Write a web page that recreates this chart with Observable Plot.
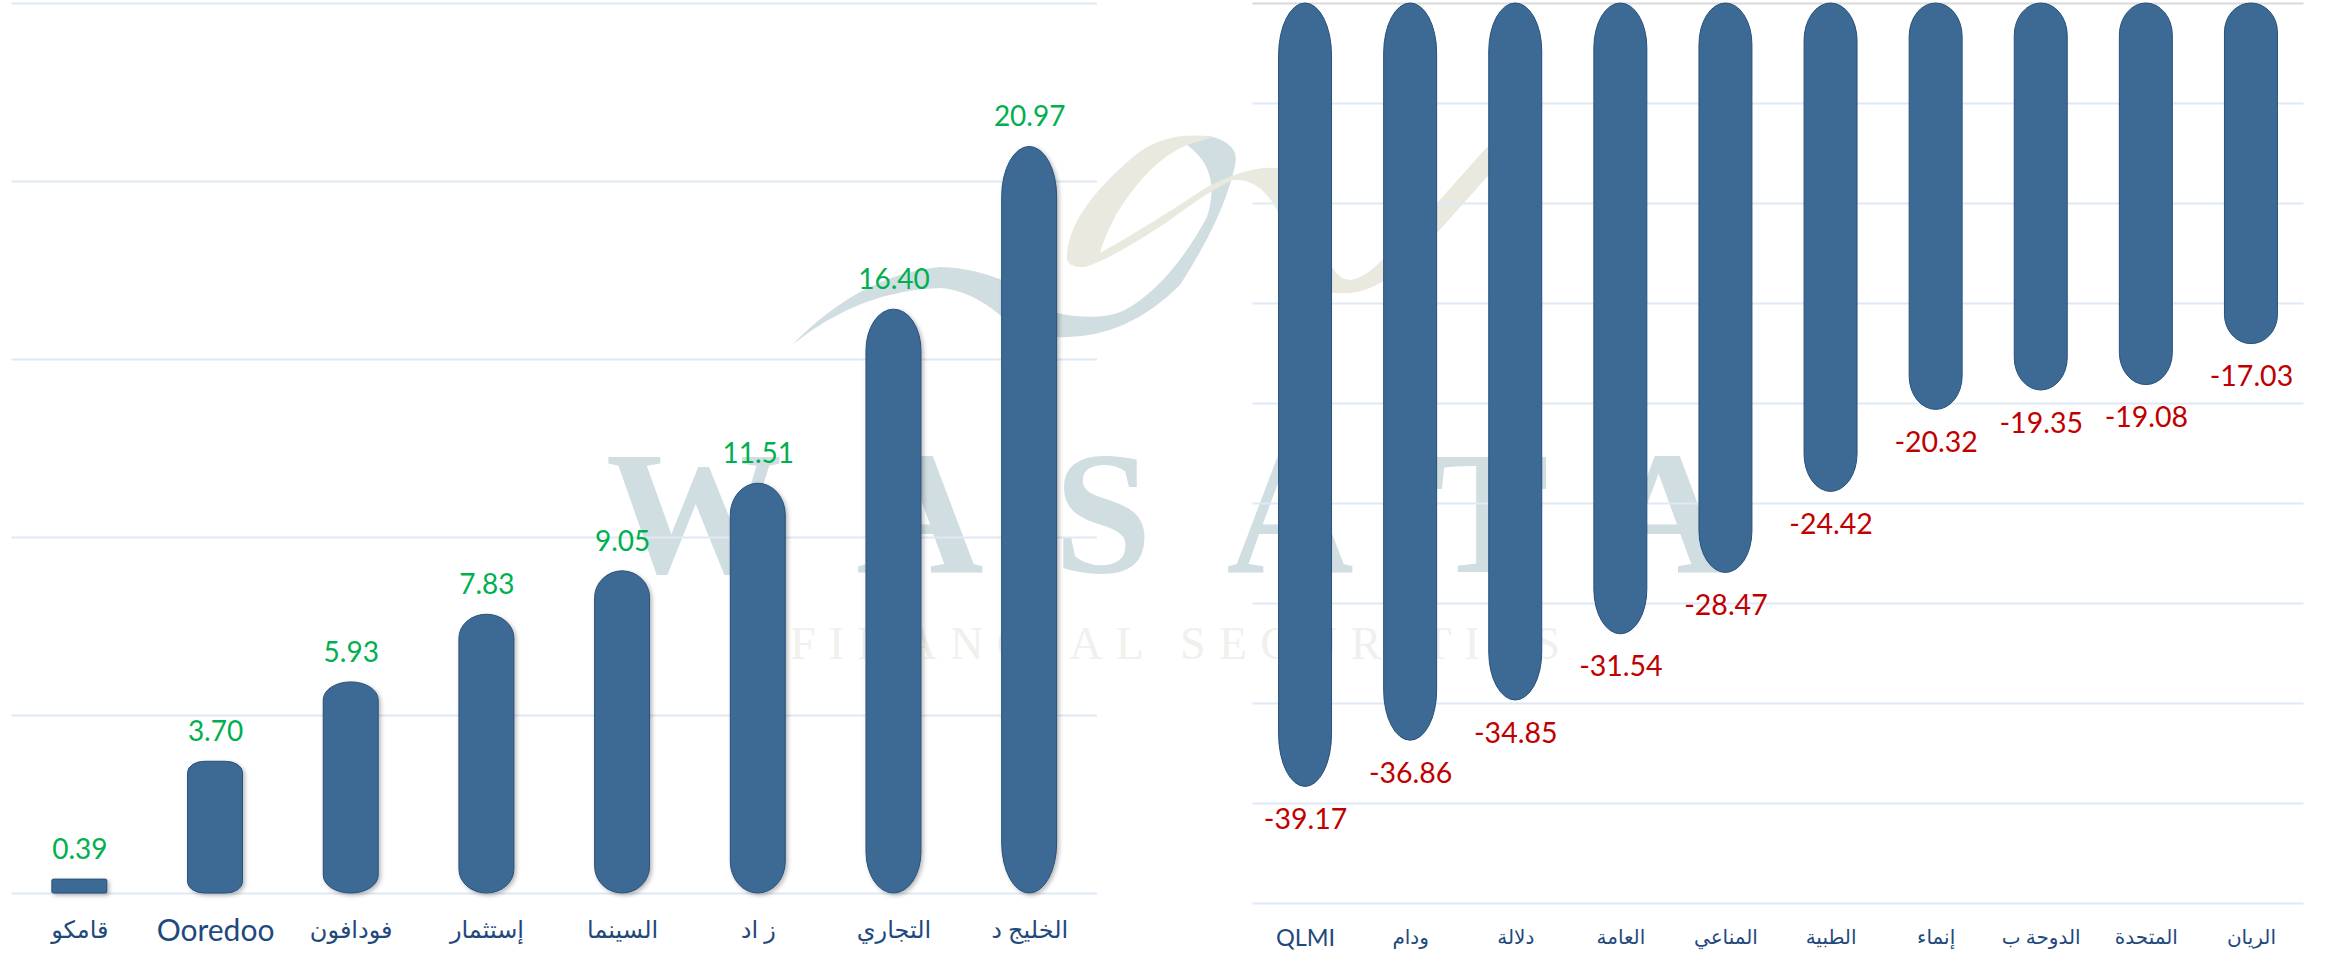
<!DOCTYPE html>
<html><head><meta charset="utf-8">
<script src="https://cdn.jsdelivr.net/npm/d3@7"></script>
<script src="https://cdn.jsdelivr.net/npm/@observablehq/plot@0.6"></script>
<style>
html,body{margin:0;padding:0;background:#fff}
#page{position:relative;width:2325px;height:955px;overflow:hidden;background:#fff}
#page>*{position:absolute;top:0}
#page svg{background:transparent}
</style></head><body>
<div id="page">
<svg id="mark" width="2325" height="955" style="left:0">
  <path fill="#d0dde1" d="M792 345 Q860 275 940 267 Q1000 268 1057 313 Q1100 322 1125 310 Q1170 285 1207 217 Q1222 170 1187 145 Q1205 133 1213 137 Q1240 145 1235 165 Q1225 215 1180 285 Q1125 340 1057 337 Q1020 335 1000 315 Q970 290 940 288 Q860 290 792 345 Z"/>
  <path fill="#e9e9df" d="M1067 260 Q1065 215 1133 157 Q1165 130 1213 137 L1187 145 Q1150 160 1117 213 Q1103 240 1100 253 Q1150 225 1207 187 Q1250 165 1277 168 L1277 210 Q1260 178 1233 180 Q1210 190 1170 220 Q1110 260 1085 267 Q1070 268 1067 260 Z"/>
  <path fill="#e9e9df" d="M1277 168 Q1310 170 1332 267 Q1340 280 1350 280 Q1365 278 1382 260 L1437 203 L1487 147 L1542 126 L1487 177 L1437 233 L1382 282 Q1365 292 1350 293 L1332 293 Q1300 285 1277 210 Z"/>
  <g font-family="'Liberation Serif'" font-weight="bold" font-size="176" fill="#d0dde1" text-anchor="middle">
    <text x="694" y="572">W</text><text x="920" y="572">A</text><text x="1103" y="572">S</text>
    <text x="1290" y="572">A</text><text x="1490" y="572">T</text><text x="1667" y="572">A</text>
  </g>
  <text x="790" y="659" font-family="'Liberation Serif'" font-size="46" fill="#f0f0ed" textLength="770" lengthAdjust="spacing">FINANCIAL SECURITIES</text>
</svg>
</div>
<script>
const gainNames = ["قامكو","Ooredoo","فودافون","إستثمار","السينما","ز اد","التجاري","الخليج د"];
const gainValues = [0.39,3.70,5.93,7.83,9.05,11.51,16.40,20.97];
const gainTicks = [0,5,10,15,20,25];
const lossNames = ["QLMI","ودام","دلالة","العامة","المناعي","الطبية","إنماء","الدوحة ب","المتحدة","الريان"];
const lossValues = [-39.17,-36.86,-34.85,-31.54,-28.47,-24.42,-20.32,-19.35,-19.08,-17.03];
const lossTicks = [-5,-10,-15,-20,-25,-30,-35,-40,-45];

const BLUE="#3d6a94", EDGE="#27507a", GRID="#dfe9f5", NAVY="#1f497d";
const NUM="Lato, 'Open Sans', sans-serif";
const LABEL="Lato, 'DejaVu Sans', sans-serif";
const isLatin = s => /^[A-Za-z]+$/.test(s);

// Bars have elliptical ends whose curve grows with the bar's drawn height.
function rounded(k, c){
  return function(index, scales, values, dim, ctx, next){
    const g = next(index, scales, values, dim, ctx);
    d3.select(g).selectAll("rect").each(function(){
      const h=+this.getAttribute("height"), w=+this.getAttribute("width");
      const ry=Math.min(k*h+c, h*0.085), rx=Math.min(w/2, h*0.13);
      this.setAttribute("rx",rx); this.setAttribute("ry",ry);
    });
    return g;
  };
}
function table(names, values){ return names.map((name,i)=>({name,value:values[i]})); }

const left = Plot.plot({
  width:1110, height:955, marginLeft:11.5, marginRight:13, marginTop:3, marginBottom:62,
  style:{background:"transparent",overflow:"visible"},
  x:{domain:gainNames, paddingInner:.595, paddingOuter:.2975, round:false, label:null},
  y:{domain:[0,25], axis:null, label:null},
  marks:[
    Plot.ruleY(gainTicks,{stroke:GRID,strokeWidth:2}),
    Plot.barY(table(gainNames,gainValues),{x:"name",y:"value",fill:BLUE,stroke:EDGE,strokeWidth:1,
      imageFilter:"drop-shadow(2px 2px 2px rgba(0,0,0,.28))",render:rounded(0.055,9)}),
    Plot.text(table(gainNames,gainValues),{x:"name",y:"value",text:d=>d.value.toFixed(2),fill:"#00b050",
      fontSize:28,fontFamily:NUM,dy:-29.5}),
    Plot.axisX({ticks:gainNames.filter(n=>!isLatin(n)),anchor:"bottom",tickSize:0,tickPadding:27,fontSize:24,fill:NAVY,fontFamily:LABEL,label:null}),
    Plot.axisX({ticks:gainNames.filter(isLatin),anchor:"bottom",tickSize:0,tickPadding:26,fontSize:30,fill:NAVY,fontFamily:LABEL,label:null})
  ]
});
left.style.left="0px";
document.getElementById("page").appendChild(left);

const right = Plot.plot({
  width:1085, height:955, marginLeft:12.5, marginRight:21.5, marginTop:3, marginBottom:52,
  style:{background:"transparent",overflow:"visible"},
  x:{domain:lossNames, paddingInner:.496, paddingOuter:.248, round:false, label:null},
  y:{domain:[-45,0], axis:null, label:null},
  marks:[
    Plot.ruleY(lossTicks,{stroke:GRID,strokeWidth:2}),
    Plot.ruleY([0],{stroke:"#d9d9d9",strokeWidth:2}),
    Plot.barY(table(lossNames,lossValues),{x:"name",y:"value",fill:BLUE,stroke:EDGE,strokeWidth:1,render:rounded(0.05,13)}),
    Plot.text(table(lossNames,lossValues),{x:"name",y:"value",text:d=>d.value.toFixed(2),fill:"#c00000",
      fontSize:28.5,fontFamily:NUM,dy:33}),
    Plot.axisX({ticks:lossNames.filter(n=>!isLatin(n)),anchor:"bottom",tickSize:0,tickPadding:26,fontSize:20,fill:NAVY,fontFamily:LABEL,label:null}),
    Plot.axisX({ticks:lossNames.filter(isLatin),anchor:"bottom",tickSize:0,tickPadding:26,fontSize:23.5,fill:NAVY,fontFamily:LABEL,label:null})
  ]
});
right.style.left="1240px";
document.getElementById("page").appendChild(right);
</script>
</body></html>
